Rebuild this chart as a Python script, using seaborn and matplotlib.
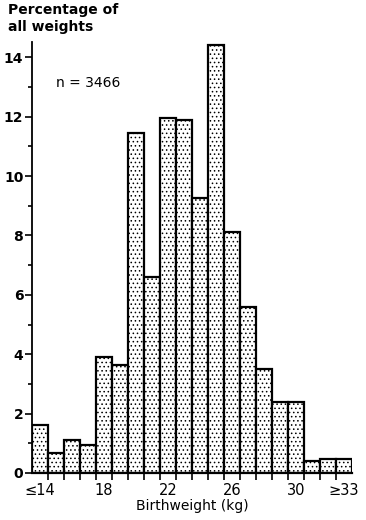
import matplotlib
matplotlib.use("Agg")
import matplotlib.pyplot as plt
import seaborn as sns
import pandas as pd

# birthweight classes (kg) and percentage of all weights
weight_class = ["1.4", "1.5", "1.6", "1.7", "1.8", "1.9", "2.0", "2.1", "2.2", "2.3",
                "2.4", "2.5", "2.6", "2.7", "2.8", "2.9", "3.0", "3.1", "3.2", "3.3"]
percentage = [1.6, 0.66, 1.12, 0.93, 3.9, 3.65, 11.45, 6.6, 11.95, 11.9,
              9.25, 14.4, 8.1, 5.6, 3.5, 2.4, 2.4, 0.42, 0.48, 0.48]
label_pos = [0, 4, 8, 12, 16, 19]
label_text = ["\u226414", "18", "22", "26", "30", "\u226533"]

sns.set_style("white")
plt.rcParams["font.family"] = ["DejaVu Sans"]
plt.rcParams["text.color"] = "black"
plt.rcParams["axes.labelcolor"] = "black"
plt.rcParams["xtick.color"] = "black"
plt.rcParams["ytick.color"] = "black"
plt.rcParams["axes.edgecolor"] = "black"
plt.rcParams["hatch.color"] = "#8a8a8a"
plt.rcParams["hatch.linewidth"] = 0.6

df = pd.DataFrame({"weight": weight_class, "pct": percentage})

fig = plt.figure(figsize=(3.66, 5.20), dpi=100)
ax = fig.add_axes([0.0866, 0.0904, 0.875, 0.828])

sns.barplot(data=df, x="weight", y="pct", color="white", width=1.0,
            edgecolor="black", linewidth=1.6, ax=ax)
for p in ax.patches:
    p.set_hatch("....")

ax.set_xlim(-0.5, 19.5)
ax.set_ylim(0, 14.5)

for side in ["top", "right"]:
    ax.spines[side].set_visible(False)
ax.spines["left"].set_linewidth(1.3)
ax.spines["bottom"].set_linewidth(1.6)

# y axis: labelled even ticks, unlabelled odd ticks
ax.set_yticks(range(0, 15, 2))
ax.set_yticks(range(1, 15, 2), minor=True)
ax.tick_params(axis="y", which="major", direction="out", length=5, width=1.2,
               labelsize=10, pad=1, left=True)
ax.tick_params(axis="y", which="minor", direction="out", length=3, width=1.2, left=True)
for t in ax.get_yticklabels():
    t.set_fontweight("bold")

# x axis: tick marks at class edges, labels at class centres
ax.set_xticks(label_pos)
ax.set_xticklabels(label_text)
ax.set_xticks([i + 0.5 for i in range(19)], minor=True)
ax.tick_params(axis="x", which="major", length=0, labelsize=10.5, pad=7, bottom=True)
ax.tick_params(axis="x", which="minor", direction="out", length=5, width=1.2, bottom=True)

ax.set_xlabel("Birthweight (kg)", fontsize=10, labelpad=1)
ax.set_ylabel("")
fig.text(0.022, 0.995, "Percentage of\nall weights", fontsize=10, fontweight="bold",
         va="top", ha="left", linespacing=1.3)
ax.text(1.0, 13.0, "n = 3466", fontsize=10)

fig.savefig("out.png", dpi=100)
